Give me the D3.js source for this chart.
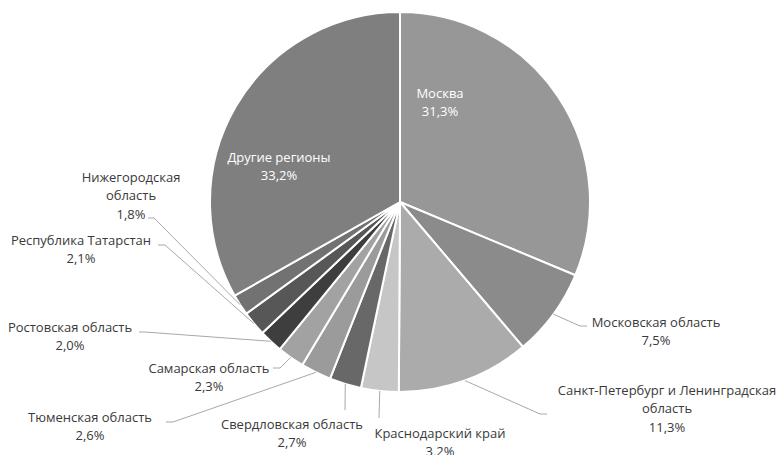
<!DOCTYPE html>
<html>
<head>
<meta charset="utf-8">
<script src="https://cdn.jsdelivr.net/npm/d3@7"></script>
<style>
  html, body { margin: 0; padding: 0; background: #fff; }
  svg { display: block; font-family: "Open Sans", "Noto Sans", sans-serif; }
</style>
</head>
<body>
<div id="chart"></div>
<script>
const W = 779;
const H = 455;

// slices, clockwise from 12 o'clock
const regions = [
  'Москва',
  'Московская область',
  'Санкт-Петербург и Ленинградская\nобласть',
  'Краснодарский край',
  'Свердловская область',
  'Тюменская область',
  'Самарская область',
  'Ростовская область',
  'Республика Татарстан',
  'Нижегородская\nобласть',
  'Другие регионы'
];
const shares = [31.3, 7.5, 11.3, 3.2, 2.7, 2.6, 2.3, 2.0, 2.1, 1.8, 33.2];
const fills = ['#979797', '#8b8b8b', '#ababab', '#c6c6c6', '#686868', '#9b9b9b',
               '#a2a2a2', '#3e3e3e', '#575757', '#727272', '#7f7f7f'];

// label layout: text centre of first line, and leader elbow / end (null = inside label)
const labelPos = [
  [440, 93], [656, 322], [667, 390], [440, 433], [292, 424], [90, 417],
  [209, 368], [70, 327], [81, 240], [131, 177], [279, 157]
];
const leaders = [
  null,
  [[580, 326], [587, 326]],
  [[540, 414], [547, 414]],
  [[379, 418], [379, 418]],
  [[345, 410], [345, 410]],
  [[173, 422], [166, 422]],
  [[280, 368], [273, 368]],
  [[145, 332], [139, 332]],
  [[165, 245], [158, 245]],
  [[154, 218], [148, 218]],
  null
];

const cx = 400, cy = 202, R = 190;
const fmt = v => d3.format('.1f')(v).replace('.', ',') + '%';

const svg = d3.select('#chart').append('svg')
  .attr('width', W)
  .attr('height', H)
  .attr('viewBox', `0 0 ${W} ${H}`);

const data = regions.map((name, i) => ({ name, value: shares[i], i }));
const pie = d3.pie().value(d => d.value).sort(null);
const arcs = pie(data);
const arc = d3.arc().innerRadius(0).outerRadius(R);

const g = svg.append('g').attr('transform', `translate(${cx},${cy})`);

g.selectAll('path.slice')
  .data(arcs)
  .join('path')
  .attr('class', 'slice')
  .attr('d', arc)
  .attr('fill', d => fills[d.data.i])
  .attr('stroke', '#fff')
  .attr('stroke-width', 2)
  .attr('stroke-linejoin', 'round');

// leader lines from the outer arc midpoint
const line = d3.line();
svg.append('g').selectAll('path.leader')
  .data(arcs.filter(d => leaders[d.data.i]))
  .join('path')
  .attr('class', 'leader')
  .attr('fill', 'none')
  .attr('stroke', '#a8a8a8')
  .attr('stroke-width', 1)
  .attr('d', d => {
    const a = (d.startAngle + d.endAngle) / 2;
    const p0 = [cx + R * Math.sin(a), cy - R * Math.cos(a)];
    return line([p0, ...leaders[d.data.i]]);
  });

const lineH = 18.5;
const labels = svg.append('g').selectAll('text.label')
  .data(arcs)
  .join('text')
  .attr('class', 'label')
  .attr('text-anchor', 'middle')
  .attr('font-size', 13)
  .attr('fill', d => leaders[d.data.i] ? '#3a3a3a' : '#ffffff')
  .attr('x', d => labelPos[d.data.i][0])
  .attr('y', d => labelPos[d.data.i][1]);

labels.each(function(d) {
  const [x] = labelPos[d.data.i];
  const lines = d.data.name.split('\n').concat(fmt(d.data.value));
  d3.select(this).selectAll('tspan')
    .data(lines)
    .join('tspan')
    .attr('x', x)
    .attr('dy', (t, k) => k === 0 ? '0.35em' : lineH)
    .text(t => t);
});
</script>
</body>
</html>
